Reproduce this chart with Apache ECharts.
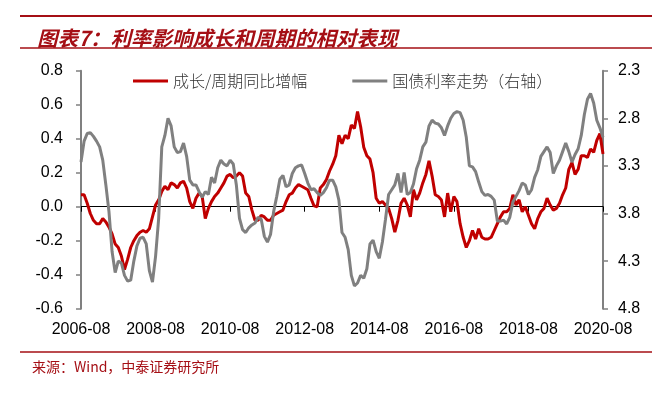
<!DOCTYPE html>
<html>
<head>
<meta charset="utf-8">
<script src="https://cdn.jsdelivr.net/npm/echarts@6/dist/echarts.min.js"></script>
<style>
html,body{margin:0;padding:0;background:#fff;}
#chart{width:671px;height:394px;}
</style>
</head>
<body>
<div id="chart"></div>
<script>
// ---- data (monthly, 2006-08 .. 2020-08) ----
const startYear = 2006, startMonth = 8, monthCount = 169;
const categories = [];
for (let i = 0; i < monthCount; i++) {
  const m = startMonth - 1 + i;
  const y = startYear + Math.floor(m / 12);
  const mm = (m % 12) + 1;
  categories.push(y + '-' + (mm < 10 ? '0' + mm : mm));
}
const growthCycleYoY = [
  0.07, 0.07, 0.02, -0.04, -0.08, -0.10, -0.10, -0.07, -0.09, -0.12,
  -0.16, -0.22, -0.24, -0.29, -0.37, -0.31, -0.24, -0.20, -0.17, -0.15,
  -0.14, -0.15, -0.13, -0.06, 0.01, 0.04, 0.09, 0.12, 0.10, 0.14,
  0.13, 0.11, 0.14, 0.15, 0.11, 0.03, -0.01, 0.05, 0.08, 0.06,
  -0.07, -0.01, 0.03, 0.06, 0.08, 0.11, 0.14, 0.18, 0.19, 0.17,
  0.18, 0.20, 0.18, 0.08, 0.06, -0.02, -0.08, -0.08, -0.05, -0.06,
  -0.08, -0.08, -0.05, -0.04, -0.03, -0.02, 0.03, 0.07, 0.08, 0.11,
  0.13, 0.12, 0.11, 0.10, 0.05, 0.005, 0.00, 0.11, 0.13, 0.16,
  0.21, 0.25, 0.30, 0.42, 0.37, 0.42, 0.40, 0.48, 0.46, 0.56,
  0.47, 0.35, 0.30, 0.28, 0.20, 0.05, 0.02, 0.03, 0.01, -0.01,
  -0.07, -0.15, -0.08, 0.02, 0.05, 0.01, -0.06, 0.10, 0.04, 0.08,
  0.14, 0.19, 0.27, 0.18, 0.07, 0.06, 0.04, -0.06, 0.08, -0.03,
  0.06, 0.03, -0.10, -0.18, -0.24, -0.20, -0.14, -0.19, -0.13, -0.18,
  -0.19, -0.19, -0.18, -0.14, -0.10, -0.06, -0.03, -0.03, -0.01, 0.07,
  0.01, 0.04, -0.03, 0.00, -0.05, -0.10, -0.13, -0.07, -0.03, -0.01,
  0.05, 0.01, -0.02, -0.01, 0.02, 0.07, 0.11, 0.22, 0.26, 0.19,
  0.22, 0.30, 0.30, 0.29, 0.34, 0.32, 0.39, 0.43, 0.31
];
const bondYield = [
  3.26, 3.04, 2.96, 2.95, 2.99, 3.04, 3.10, 3.24, 3.50, 3.78,
  4.20, 4.42, 4.30, 4.32, 4.45, 4.51, 4.50, 4.30, 4.14, 4.06,
  4.05, 4.12, 4.40, 4.52, 4.25, 3.85, 3.10, 2.98, 2.80, 2.88,
  3.10, 3.16, 3.15, 3.06, 3.20, 3.45, 3.50, 3.50, 3.57, 3.63,
  3.57, 3.60, 3.42, 3.48, 3.32, 3.24, 3.28, 3.30, 3.24, 3.28,
  3.50, 3.85, 3.97, 4.00, 3.95, 3.92, 3.90, 3.84, 3.86, 4.04,
  4.10, 4.02, 3.78, 3.62, 3.44, 3.40, 3.52, 3.50, 3.38, 3.32,
  3.30, 3.29, 3.38, 3.48, 3.55, 3.54, 3.58, 3.61, 3.58, 3.53,
  3.45, 3.45, 3.52, 3.66, 4.00, 4.05, 4.18, 4.45, 4.56, 4.53,
  4.45, 4.48, 4.38, 4.12, 4.08, 4.20, 4.27, 4.10, 3.86, 3.60,
  3.55, 3.50, 3.38, 3.58, 3.37, 3.60, 3.58, 3.49, 3.33, 3.24,
  3.10, 3.05, 2.88, 2.82, 2.85, 2.86, 2.90, 2.98, 2.88, 2.80,
  2.75, 2.73, 2.74, 2.82, 3.00, 3.30, 3.31, 3.36, 3.47, 3.57,
  3.61, 3.60, 3.62, 3.66, 3.88, 3.88, 3.87, 3.91, 3.84, 3.68,
  3.62, 3.56, 3.48, 3.50, 3.60, 3.55, 3.42, 3.34, 3.20, 3.15,
  3.10, 3.16, 3.38, 3.30, 3.24, 3.15, 3.06, 3.15, 3.26, 3.18,
  3.12, 2.98, 2.76, 2.60, 2.54, 2.64, 2.82, 2.90, 3.00
];
const leftTicks = [-0.6, -0.4, -0.2, 0.0, 0.2, 0.4, 0.6, 0.8];
const rightTicks = [2.3, 2.8, 3.3, 3.8, 4.3, 4.8];
const seriesNames = ['成长/周期同比增幅', '国债利率走势（右轴）'];
const titleText = '图表7：利率影响成长和周期的相对表现';
const sourceText = '来源：Wind，中泰证券研究所';

const chart = echarts.init(document.getElementById('chart'), null, {renderer: 'canvas'});
const DARK_RED = '#A50F15';
const numFont = 'Arial, "Liberation Sans", sans-serif';
const cjkFont = '"Noto Sans CJK SC", sans-serif';

chart.setOption({
  animation: false,
  backgroundColor: '#fff',
  title: {
    text: titleText,
    left: 32, top: 23,
    textStyle: {fontSize: 20.5, fontStyle: 'italic', fontWeight: 'bold', color: DARK_RED, fontFamily: cjkFont}
  },
  graphic: [
    {type: 'line', shape: {x1: 20, y1: 16, x2: 652, y2: 16}, style: {stroke: DARK_RED, lineWidth: 2}},
    {type: 'line', shape: {x1: 20, y1: 48, x2: 652, y2: 48}, style: {stroke: DARK_RED, lineWidth: 1.5}},
    {type: 'line', shape: {x1: 20, y1: 352, x2: 652, y2: 352}, style: {stroke: DARK_RED, lineWidth: 1.5}},
    {type: 'text', left: 32, top: 360, style: {text: sourceText, fontSize: 14, fill: DARK_RED, fontFamily: cjkFont}}
  ],
  legend: {
    top: 68, left: 128,
    itemWidth: 35, itemHeight: 3, itemGap: 45,
    icon: 'rect',
    textStyle: {fontSize: 16, color: '#333', fontFamily: cjkFont, fontWeight: 300},
    data: seriesNames
  },
  grid: {left: 81, right: 68, top: 70.7, bottom: 85.3, containLabel: false},
  xAxis: [
    {
      type: 'category', data: categories, boundaryGap: false, position: 'bottom',
      axisLine: {show: false, onZero: false}, axisTick: {show: false},
      axisLabel: {interval: 23, margin: 13, fontSize: 16, color: '#000', fontFamily: numFont},
      splitLine: {show: false}
    },
    {
      type: 'category', data: categories, boundaryGap: false, position: 'bottom',
      axisLine: {show: true, onZero: true, lineStyle: {color: '#000', width: 1}},
      axisTick: {show: true, interval: 23, length: 5, inside: false, lineStyle: {color: '#000'}},
      axisLabel: {show: false}, splitLine: {show: false}
    }
  ],
  yAxis: [
    {
      type: 'value', min: -0.6, max: 0.8, position: 'left',
      axisLine: {show: true, lineStyle: {color: '#808080', width: 2}},
      axisTick: {show: true, length: 5, customValues: leftTicks, lineStyle: {color: '#808080', width: 1.5}},
      axisLabel: {customValues: leftTicks, margin: 18, fontSize: 16, color: '#000', fontFamily: numFont,
        formatter: v => v.toFixed(1)},
      splitLine: {show: false}
    },
    {
      type: 'value', min: 2.3, max: 4.8, inverse: true, position: 'right',
      axisLine: {show: true, lineStyle: {color: '#808080', width: 2}},
      axisTick: {show: true, length: 5, customValues: rightTicks, lineStyle: {color: '#808080', width: 1.5}},
      axisLabel: {customValues: rightTicks, margin: 15, fontSize: 16, color: '#000', fontFamily: numFont,
        formatter: v => v.toFixed(1)},
      splitLine: {show: false}
    }
  ],
  series: [
    {
      name: seriesNames[0], type: 'line', xAxisIndex: 0, yAxisIndex: 0,
      data: growthCycleYoY, showSymbol: false, symbol: 'none', z: 2,
      lineStyle: {color: '#C00000', width: 3}, itemStyle: {color: '#C00000'}
    },
    {
      name: seriesNames[1], type: 'line', xAxisIndex: 0, yAxisIndex: 1,
      data: bondYield, showSymbol: false, symbol: 'none', z: 3,
      lineStyle: {color: '#808080', width: 3}, itemStyle: {color: '#808080'}
    }
  ]
});
</script>
</body>
</html>
